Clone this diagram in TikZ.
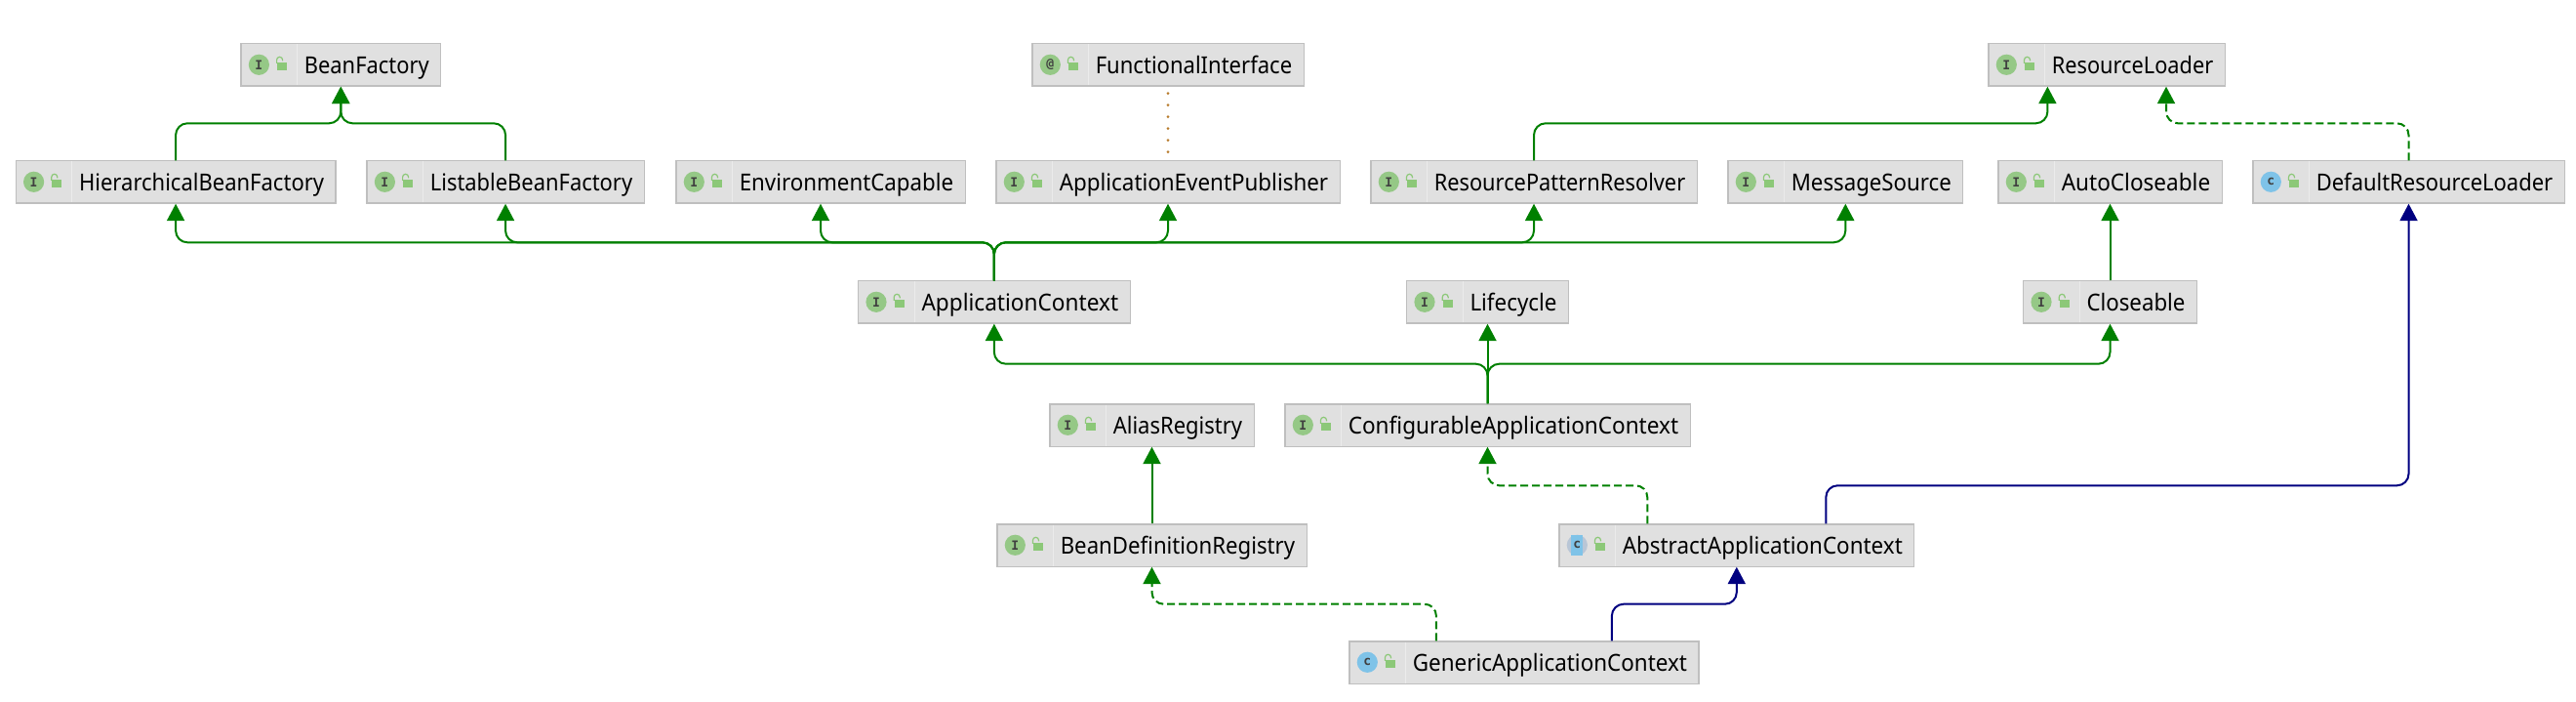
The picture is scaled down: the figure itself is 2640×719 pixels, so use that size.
\documentclass[tikz,border=0pt]{standalone}
\usepackage{graphicx}
\usepackage{fontspec}
\setmainfont{Noto Sans}
\newfontfamily\iconfont{DejaVu Sans Mono}
\usetikzlibrary{arrows.meta}
\definecolor{boxfill}{HTML}{E0E0E0}
\definecolor{boxline}{HTML}{BFBFBF}
\definecolor{boxdiv}{HTML}{EBEBEB}
\definecolor{icongreen}{HTML}{95C886}
\definecolor{lockgreen}{HTML}{8CC878}
\definecolor{iconblue}{HTML}{7FC3E8}
\definecolor{icongrey}{HTML}{B9C6D6}
\definecolor{icondark}{HTML}{404040}
\definecolor{gogreen}{HTML}{008000}
\definecolor{gonavy}{HTML}{000080}
\definecolor{dotbrown}{HTML}{B87A2A}
\tikzset{
  umlbox/.style={draw=boxline,fill=boxfill,line width=1.2pt,minimum height=43.2pt,inner sep=0pt,anchor=north west},
  umllabel/.style={anchor=base west,inner sep=0pt,font=\fontsize{24}{28}\selectfont,text=black},
  iconletter/.style={inner sep=0pt,font=\iconfont\bfseries\fontsize{13}{13}\selectfont,text=icondark},
  edgebase/.style={line width=2pt,rounded corners=12pt,-{Triangle[length=17.5pt,width=18pt]}},
  greenline/.style={edgebase,draw=gogreen,fill=none},
  greendash/.style={edgebase,draw=gogreen,dash pattern=on 8pt off 4pt},
  navyline/.style={edgebase,draw=gonavy},
  annot/.style={line width=3pt,draw=dotbrown,line cap=round,dash pattern=on 0pt off 12pt},
}
% name, left, top, right, kind (I/C/A/@), label
\newcommand{\umlnode}[6]{%
  \pgfmathsetmacro{\umlw}{#4-#2-1.2}%
  \pgfmathsetmacro{\umltw}{#4-#2-78}%
  \node[umlbox,minimum width=\umlw pt] (#1) at (#2,#3) {};
  \draw[boxdiv,line width=1pt] ([shift={(58pt,-1.2pt)}]#1.north west) -- ([shift={(58pt,1.2pt)}]#1.south west);
  \umlicon{#1}{#5}
  \fill[lockgreen] ([shift={(37.7pt,-20pt)}]#1.north west) rectangle ([shift={(47.7pt,-28pt)}]#1.north west);
  \draw[lockgreen,line width=1.2pt] ([shift={(37.2pt,-20.5pt)}]#1.north west) -- ([shift={(37.2pt,-17pt)}]#1.north west) arc[start angle=180,end angle=0,radius=3pt] -- ([shift={(43.2pt,-18pt)}]#1.north west);
  \node[umllabel] (#1-label) at ([shift={(65.3pt,-31.4pt)}]#1.north west) {\resizebox{\umltw pt}{\height}{#6}};
}
\newcommand{\umlicon}[2]{%
  \ifx#2I
    \fill[icongreen] ([shift={(19pt,-22pt)}]#1.north west) circle[radius=10.6pt];
    \node[iconletter] at ([shift={(19pt,-22pt)}]#1.north west) {I};
  \else\ifx#2C
    \fill[iconblue] ([shift={(19pt,-22pt)}]#1.north west) circle[radius=10.6pt];
    \node[iconletter] at ([shift={(19pt,-22pt)}]#1.north west) {c};
  \else\ifx#2A
    \fill[icongrey] ([shift={(19pt,-22pt)}]#1.north west) circle[radius=10.6pt];
    \fill[iconblue] ([shift={(13pt,-32.5pt)}]#1.north west) rectangle ([shift={(25pt,-11.5pt)}]#1.north west);
    \node[iconletter] at ([shift={(19pt,-22pt)}]#1.north west) {c};
  \else
    \fill[icongreen] ([shift={(19pt,-22pt)}]#1.north west) circle[radius=10.6pt];
    \node[iconletter] at ([shift={(19pt,-22pt)}]#1.north west) {@};
  \fi\fi\fi
}
% style, source, bus y, target
\newcommand{\busedge}[4]{\draw[#1] (#2) -- (#2 |- 0,#3) -- (#4 |- 0,#3) -- (#4);}
\begin{document}
\begin{tikzpicture}[x=1pt,y=-1pt]
\useasboundingbox (0,0) rectangle (2640,719);
\fill[white] (0,0) rectangle (2640,719);
\umlnode{bf}{246.4}{44.3}{452.2}{I}{BeanFactory}
\umlnode{fi}{1057.3}{44.3}{1336.7}{@}{FunctionalInterface}
\umlnode{rl}{2037.3}{44.3}{2280.7}{I}{ResourceLoader}
\umlnode{hbf}{15.6}{164.3}{344.6}{I}{HierarchicalBeanFactory}
\umlnode{lbf}{375.4}{164.3}{660.7}{I}{ListableBeanFactory}
\umlnode{ec}{692.3}{164.3}{989.7}{I}{EnvironmentCapable}
\umlnode{aep}{1020.3}{164.3}{1373.7}{I}{ApplicationEventPublisher}
\umlnode{rpr}{1404.3}{164.3}{1739.7}{I}{ResourcePatternResolver}
\umlnode{ms}{1770.3}{164.3}{2012.3}{I}{MessageSource}
\umlnode{ac2}{2047.3}{164.3}{2277.7}{I}{AutoCloseable}
\umlnode{drl}{2308.3}{164.3}{2628.7}{C}{DefaultResourceLoader}
\umlnode{ac}{879}{287.3}{1158.7}{I}{ApplicationContext}
\umlnode{lc}{1441}{287.3}{1608}{I}{Lifecycle}
\umlnode{cl}{2073}{287.3}{2252}{I}{Closeable}
\umlnode{ar}{1075.3}{413.3}{1285.7}{I}{AliasRegistry}
\umlnode{cac}{1316.3}{413.3}{1732.7}{I}{ConfigurableApplicationContext}
\umlnode{bdr}{1021.3}{536.3}{1339.7}{I}{BeanDefinitionRegistry}
\umlnode{aac}{1597.3}{536.3}{1962.3}{A}{AbstractApplicationContext}
\umlnode{gac}{1382.3}{656.3}{1741.5}{C}{GenericApplicationContext}
\coordinate (rlL) at ([xshift=-60.6pt]rl.south);
\coordinate (rlR) at ([xshift=61pt]rl.south);
\coordinate (aacL) at ([xshift=-91.5pt]aac.north);
\coordinate (aacR) at ([xshift=91.5pt]aac.north);
\coordinate (gacL) at ([xshift=-90pt]gac.north);
\coordinate (gacR) at ([xshift=90pt]gac.north);
\busedge{greenline}{hbf.north}{126.3}{bf.south}
\busedge{greenline}{lbf.north}{126.3}{bf.south}
\draw[annot] (fi.south) ++(0,7) -- (aep.north);
\busedge{greenline}{rpr.north}{126.3}{rlL}
\busedge{greendash}{drl.north}{126.3}{rlR}
\busedge{greenline}{ac.north}{248.3}{hbf.south}
\busedge{greenline}{ac.north}{248.3}{lbf.south}
\busedge{greenline}{ac.north}{248.3}{ec.south}
\busedge{greenline}{ac.north}{248.3}{aep.south}
\busedge{greenline}{ac.north}{248.3}{rpr.south}
\busedge{greenline}{ac.north}{248.3}{ms.south}
\draw[greenline] (cl.north) -- (ac2.south);
\busedge{greenline}{cac.north}{372.7}{ac.south}
\draw[greenline] (cac.north) -- (lc.south);
\busedge{greenline}{cac.north}{372.7}{cl.south}
\draw[greenline] (bdr.north) -- (ar.south);
\busedge{greendash}{aacL}{497.3}{cac.south}
\busedge{navyline}{aacR}{497.3}{drl.south}
\busedge{greendash}{gacL}{618.7}{bdr.south}
\busedge{navyline}{gacR}{618.7}{aac.south}
\end{tikzpicture}
\end{document}
